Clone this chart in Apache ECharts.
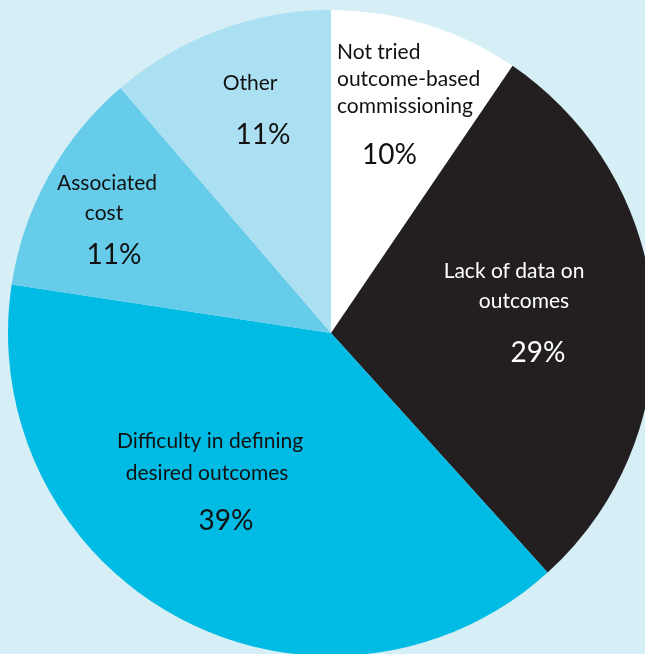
<!DOCTYPE html>
<html>
<head>
<meta charset="utf-8">
<style>
html,body{margin:0;padding:0;background:#d6eef6;}
#chart{width:645px;height:654px;}
</style>
<script src="https://cdn.jsdelivr.net/npm/echarts@6/dist/echarts.min.js"></script>
</head>
<body>
<div id="chart"></div>
<script>
// Data
const categories = ["Not tried outcome-based commissioning", "Lack of data on outcomes", "Difficulty in defining desired outcomes", "Associated cost", "Other"];
const nameLines = [["Not tried", "outcome-based", "commissioning"], ["Lack of data on", "outcomes"], ["Difficulty in defining", "desired outcomes"], ["Associated", "cost"], ["Other"]];
const values = [9.5, 28.8, 39.1, 11.3, 11.3];
const pctLabels = ["10%", "29%", "39%", "11%", "11%"];

// Styles / layout (not data)
const colors = ["#ffffff", "#231f20", "#00bbe4", "#66cce9", "#abdff2"];
const textColors = ["#111", "#fff", "#111", "#111", "#111"];
const labelLayoutCfg = [
  {x: 337, y: 38.5, align: 'left', lh: 27, pl: 71, linePad: [0, 0, 0], pctPad: [0, 0, 0, 25], tokAlign: 'left'},
  {x: 514, y: 256, align: 'center', lh: 30, pl: 74, linePad: [0, 20], pctPad: [0, 0, 0, 48], tokAlign: 'center'},
  {x: 210, y: 425, align: 'center', lh: 32, pl: 64, linePad: [0, -6], pctPad: [0, 0, 0, 32], tokAlign: 'center'},
  {x: 107, y: 168, align: 'center', lh: 30, pl: 54, linePad: [0, -6], pctPad: [0, 0, 0, 14], tokAlign: 'center'},
  {x: 250, y: 68, align: 'center', lh: 30, pl: 74, linePad: [0], pctPad: [0, 0, 0, 26], tokAlign: 'center'}
];
const FONT = 'Lato';

const chart = echarts.init(document.getElementById('chart'), null, {renderer: 'canvas'});

const seriesData = categories.map((c, i) => {
  const cfg = labelLayoutCfg[i];
  const rich = {};
  const parts = [];
  nameLines[i].forEach((ln, j) => {
    const key = 'n' + j;
    const shift = cfg.linePad[j] || 0;
    rich[key] = {
      fontFamily: FONT, fontSize: 21, color: textColors[i], lineHeight: cfg.lh,
      align: cfg.tokAlign,
      padding: shift > 0 ? [0, 0, 0, shift] : (shift < 0 ? [0, -shift, 0, 0] : 0)
    };
    parts.push('{' + key + '|' + ln + '}');
  });
  rich.p = {
    fontFamily: FONT, fontSize: 28, color: textColors[i], lineHeight: cfg.pl,
    align: cfg.tokAlign, padding: cfg.pctPad
  };
  parts.push('{p|' + pctLabels[i] + '}');
  return {
    name: c,
    value: values[i],
    itemStyle: {color: colors[i]},
    label: {formatter: parts.join('\n'), rich: rich, align: cfg.align}
  };
});

chart.setOption({
  backgroundColor: '#d6eef6',
  animation: false,
  series: [{
    type: 'pie',
    center: [331, 333],
    radius: 323,
    startAngle: 90,
    clockwise: true,
    avoidLabelOverlap: false,
    silent: true,
    label: {show: true, position: 'inside'},
    labelLine: {show: false},
    labelLayout: function (params) {
      const cfg = labelLayoutCfg[params.dataIndex];
      return {x: cfg.x, y: cfg.y, align: cfg.align, verticalAlign: 'top'};
    },
    itemStyle: {borderWidth: 0},
    data: seriesData
  }]
});
</script>
</body>
</html>
